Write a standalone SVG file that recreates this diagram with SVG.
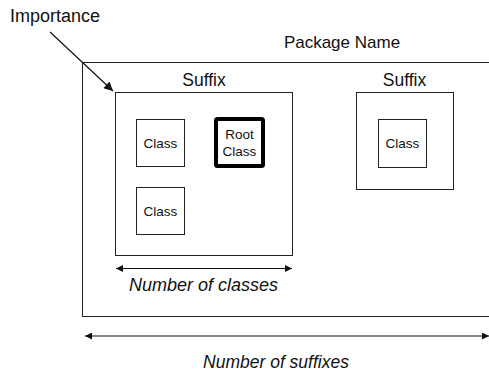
<svg xmlns="http://www.w3.org/2000/svg" width="489" height="375" viewBox="0 0 489 375">
<style>
  text { font-family: "Liberation Sans", Arial, Helvetica, sans-serif; fill: #111; }
  .lbl { font-size: 17px; }
  .cls { font-size: 13.5px; text-anchor: middle; }
  .ital { font-size: 18px; font-style: italic; text-anchor: middle; }
  .box { fill: #fff; stroke: #222; stroke-width: 1; }
  .root { fill: #fff; stroke: #000; stroke-width: 4; }
  .conn { stroke: #111; stroke-width: 1.2; fill: none; }
</style>
<defs>
  <marker id="ah" viewBox="0 0 10 10" refX="10" refY="5" markerWidth="10" markerHeight="7" markerUnits="userSpaceOnUse" orient="auto-start-reverse">
    <path d="M0,0 L10,5 L0,10 z" fill="#111"/>
  </marker>
  <marker id="ah2" viewBox="0 0 10 10" refX="10" refY="5" markerWidth="13" markerHeight="9" markerUnits="userSpaceOnUse" orient="auto">
    <path d="M0,0 L10,5 L0,10 z" fill="#111"/>
  </marker>
</defs>
<rect width="489" height="375" fill="#fff"/>

<g id="package">
  <rect class="box" x="82.5" y="62.5" width="420" height="254"/>
  <text class="lbl" x="342" y="48" text-anchor="middle">Package Name</text>
</g>

<g id="suffix1">
  <rect class="box" x="115.5" y="92.5" width="177" height="163"/>
  <text class="lbl" x="204" y="86" text-anchor="middle" style="font-size:17.5px">Suffix</text>
</g>

<g id="class1">
  <rect class="box" x="136.5" y="119.5" width="48" height="47"/>
  <text class="cls" x="160.5" y="147.5">Class</text>
</g>

<g id="rootclass">
  <rect class="root" x="216" y="119" width="47" height="47" rx="1.5"/>
  <text class="cls" x="239.5" y="138.5">Root</text>
  <text class="cls" x="239.5" y="155.5">Class</text>
</g>

<g id="class3">
  <rect class="box" x="136.5" y="187.5" width="48" height="47"/>
  <text class="cls" x="160.5" y="215.5">Class</text>
</g>

<g id="suffix2">
  <rect class="box" x="356.5" y="92.5" width="97" height="97"/>
  <text class="lbl" x="404.5" y="86" text-anchor="middle" style="font-size:17.5px">Suffix</text>
</g>

<g id="class2">
  <rect class="box" x="378.5" y="119.5" width="48" height="48"/>
  <text class="cls" x="402.5" y="147.5">Class</text>
</g>

<g id="importance">
  <text class="lbl" x="10" y="22" style="font-size:18px">Importance</text>
</g>

<g id="connectors">
  <line class="conn" x1="50" y1="32" x2="113" y2="91" marker-end="url(#ah2)"/>
  <line class="conn" x1="116" y1="268.5" x2="292" y2="268.5" marker-start="url(#ah)" marker-end="url(#ah)"/>
  <line class="conn" x1="85" y1="336" x2="489" y2="336" marker-start="url(#ah)" marker-end="url(#ah)"/>
</g>

<g id="dims">
  <text class="ital" x="203.5" y="290.5">Number of classes</text>
  <text class="ital" x="276" y="368" style="font-size:17.5px">Number of suffixes</text>
</g>
</svg>
